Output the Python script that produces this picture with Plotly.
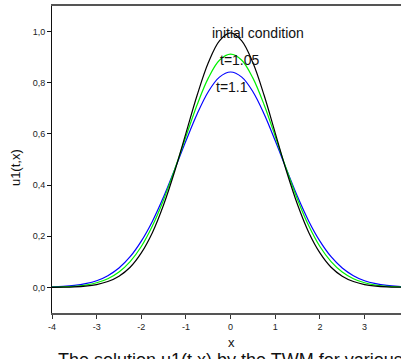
import plotly.graph_objects as go

x = [-4.0, -3.75, -3.5, -3.25, -3.0, -2.75, -2.5, -2.25, -2.0, -1.75, -1.5, -1.25, -1.0, -0.75, -0.5, -0.25,
     0.0, 0.25, 0.5, 0.75, 1.0, 1.25, 1.5, 1.75, 2.0, 2.25, 2.5, 2.75, 3.0, 3.25, 3.5, 3.75, 4.0]

u_initial = [0.0003, 0.0009, 0.0022, 0.0051, 0.0111, 0.023, 0.044, 0.079, 0.135, 0.215, 0.323, 0.455, 0.603, 0.751, 0.878, 0.964,
             0.995, 0.964, 0.878, 0.751, 0.603, 0.455, 0.323, 0.215, 0.135, 0.079, 0.044, 0.023, 0.0111, 0.0051, 0.0022, 0.0009, 0.0003]

u_t105 = [0.0009, 0.0020, 0.0044, 0.0092, 0.0182, 0.034, 0.0603, 0.101, 0.160, 0.241, 0.343, 0.462, 0.590, 0.714, 0.818, 0.888,
          0.912, 0.888, 0.818, 0.714, 0.590, 0.462, 0.343, 0.241, 0.160, 0.101, 0.0603, 0.034, 0.0182, 0.0092, 0.0044, 0.0020, 0.0009]

u_t11 = [0.0018, 0.0038, 0.0076, 0.0145, 0.026, 0.046, 0.076, 0.120, 0.181, 0.259, 0.354, 0.462, 0.573, 0.678, 0.765, 0.822,
         0.842, 0.822, 0.765, 0.678, 0.573, 0.462, 0.354, 0.259, 0.181, 0.120, 0.076, 0.046, 0.026, 0.0145, 0.0076, 0.0038, 0.0018]

x_ticks = [-4, -3, -2, -1, 0, 1, 2, 3]
x_tick_text = ["-4", "-3", "-2", "-1", "0", "1", "2", "3"]
y_ticks = [0.0, 0.2, 0.4, 0.6, 0.8, 1.0]
y_tick_text = ["0,0", "0,2", "0,4", "0,6", "0,8", "1,0"]

FONT = "Liberation Sans, Arial, sans-serif"

fig = go.Figure()
fig.add_trace(go.Scatter(x=x, y=u_t11, mode="lines", line=dict(color="#0000ff", width=1.2, shape="spline"), showlegend=False))
fig.add_trace(go.Scatter(x=x, y=u_t105, mode="lines", line=dict(color="#00f000", width=1.2, shape="spline"), showlegend=False))
fig.add_trace(go.Scatter(x=x, y=u_initial, mode="lines", line=dict(color="#000000", width=1.2, shape="spline"), showlegend=False))

fig.update_layout(
    width=401, height=359,
    margin=dict(l=52, r=0, t=6, b=46),
    paper_bgcolor="white", plot_bgcolor="white",
    font=dict(family=FONT, color="#222"),
    xaxis=dict(range=[-4, 3.816], tickvals=x_ticks, ticktext=x_tick_text, ticks="outside", ticklen=4,
               tickcolor="#333", tickwidth=1, showgrid=False, zeroline=False, showline=True,
               linecolor="#555", linewidth=2, mirror=True, tickfont=dict(size=9, family=FONT, color="#222")),
    yaxis=dict(range=[-0.1, 1.1], tickvals=y_ticks, ticktext=y_tick_text, ticks="outside", ticklen=4,
               tickcolor="#111", tickwidth=1, showgrid=False, zeroline=False, showline=True,
               linecolor="#111", linewidth=1, tickfont=dict(size=9, family=FONT, color="#222")),
    annotations=[
        dict(x=0.62, y=0.994, xref="x", yref="y", text="initial condition", showarrow=False,
             font=dict(size=14, family=FONT, color="#111"), xanchor="center", yanchor="middle"),
        dict(x=0.2, y=0.889, xref="x", yref="y", text="t=1.05", showarrow=False,
             font=dict(size=14, family=FONT, color="#111"), xanchor="center", yanchor="middle"),
        dict(x=0.02, y=0.783, xref="x", yref="y", text="t=1.1", showarrow=False,
             font=dict(size=14, family=FONT, color="#111"), xanchor="center", yanchor="middle"),
        dict(x=0.513, y=-0.0977, xref="paper", yref="paper", text="x", showarrow=False,
             font=dict(size=13, family=FONT, color="#111"), xanchor="center", yanchor="middle"),
        dict(x=-0.106, y=0.472, xref="paper", yref="paper", text="u1(t,x)", showarrow=False, textangle=-90,
             font=dict(size=13, family=FONT, color="#111"), xanchor="center", yanchor="middle"),
        dict(x=0.0115, y=-0.114, xref="paper", yref="paper", text="The solution u1(t,x) by the TWM for various values of t",
             showarrow=False, font=dict(size=18, family=FONT, color="#111"), xanchor="left", yanchor="top"),
    ],
)

fig.write_html("out.html")
